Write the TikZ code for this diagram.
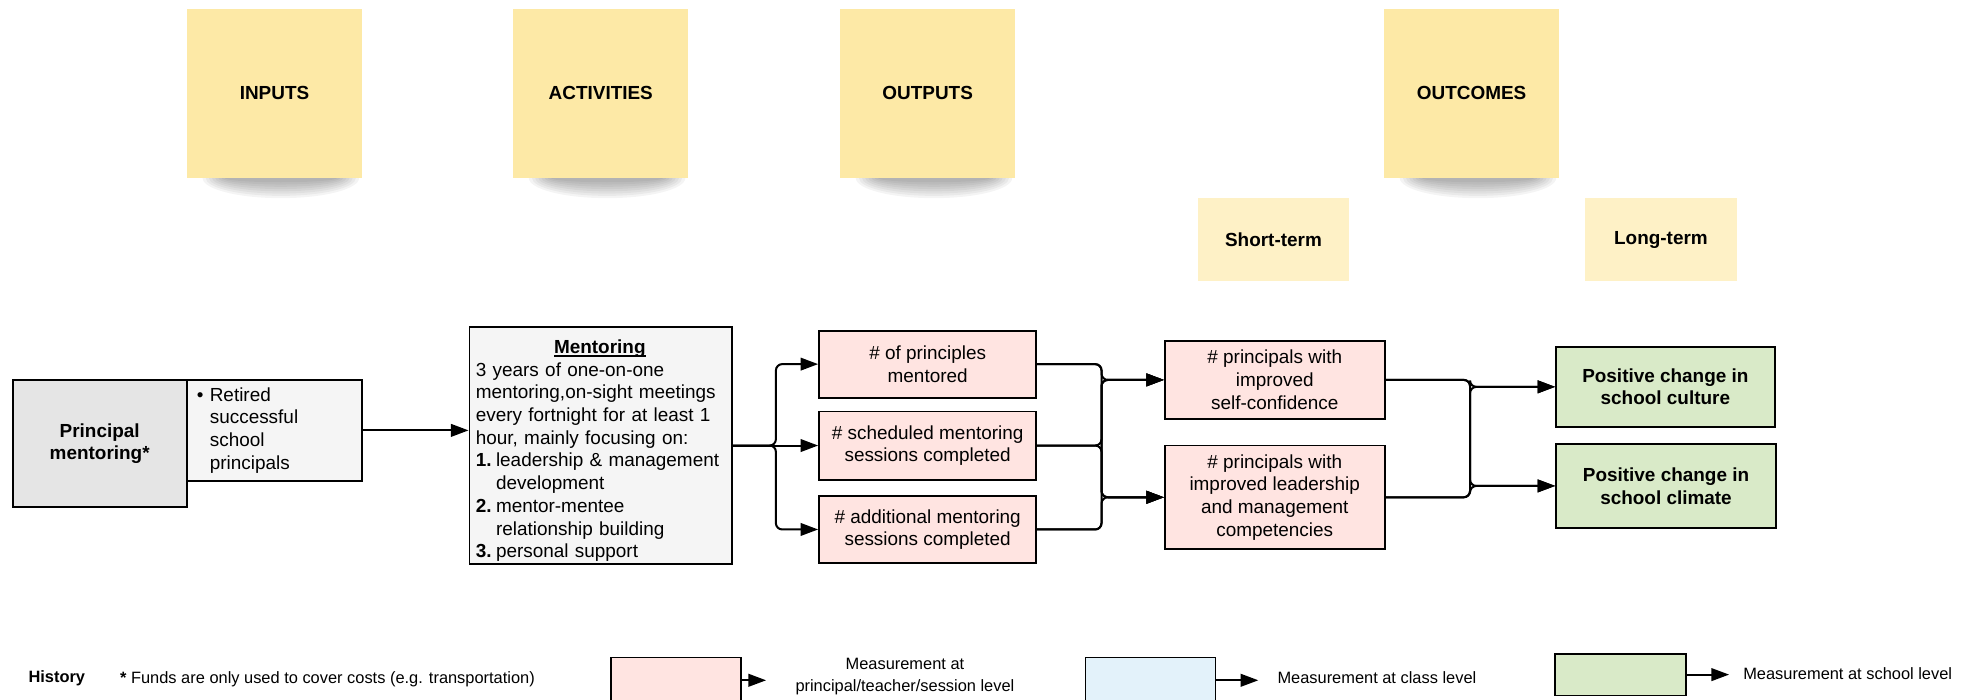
\documentclass[tikz,border=0pt]{standalone}
\usepackage{fontspec}
\setmainfont{Liberation Sans}
\usetikzlibrary{arrows.meta}

\definecolor{stickyA}{RGB}{253,233,166}
\definecolor{stickyB}{RGB}{254,241,198}
\definecolor{grayA}{RGB}{229,229,229}
\definecolor{grayB}{RGB}{245,245,245}
\definecolor{pinkbox}{RGB}{255,228,225}
\definecolor{bluebox}{RGB}{227,242,250}
\definecolor{greenbox}{RGB}{217,234,200}

% numbered item marker and its hanging indent
\newcommand{\itemno}[1]{\makebox[16pt][l]{\textbf{#1}}}
\newcommand{\itemgap}{\hspace*{16pt}}
% bold title with a rule under it
\newlength{\titlewd}
\newcommand{\ultitle}[1]{\settowidth{\titlewd}{\bfseries #1}%
  \rlap{\rule[-2.6pt]{\titlewd}{1pt}}\textbf{#1}}

\tikzset{
  sticky/.style={fill=stickyA, minimum width=139pt, minimum height=134pt, inner sep=0pt,
    font={\fontsize{15}{18}\selectfont\bfseries}},
  substicky/.style={fill=stickyB, minimum width=120pt, minimum height=66pt, inner sep=0pt,
    font={\fontsize{15}{18}\selectfont\bfseries}},
  box/.style={draw=black, line width=1.5pt, inner sep=0pt, align=center,
    font={\fontsize{15}{18}\selectfont}},
  boldbox/.style={box, font={\fontsize{15}{18}\selectfont\bfseries}},
  outbox/.style={box, fill=pinkbox, minimum width=172pt},
  legbox/.style={draw=black, line width=1.4pt, minimum width=103pt, minimum height=36pt, inner sep=0pt},
  legtext/.style={font={\fontsize{13}{17}\selectfont}, inner sep=0pt},
  conn/.style={line width=1.6pt, rounded corners=5pt, -{Triangle[length=14pt,width=10pt]}},
  shadowlayer/.style={fill=black, opacity=0.045}
}

\begin{document}
\begin{tikzpicture}[x=1pt,y=-1pt]
\useasboundingbox (0,0) rectangle (1568,554);
\clip (0,0) rectangle (1568,554);

% soft shadows under the column headers
\foreach \cx in {217.5,476,735,1166}{
  \foreach \i in {0,...,7}{
    \fill[shadowlayer] (\cx+5,141) ellipse ({62-2.5*\i} and {16-1.8*\i});
  }
}

% column headers
\node[sticky] (inputs)     at (217.5,74) {INPUTS};
\node[sticky] (activities) at (476,74)   {ACTIVITIES};
\node[sticky] (outputs)    at (735,74)   {OUTPUTS};
\node[sticky] (outcomes)   at (1166,74)  {OUTCOMES};
\node[substicky] (shortterm) at (1009,190) {Short-term};
\node[substicky] (longterm)  at (1316,190) {Long-term};

% inputs
\node[boldbox, fill=grayA, minimum width=138pt, minimum height=101pt] (pm) at (79,351.5)
  {Principal\\mentoring*};
\node[box, fill=grayB, minimum height=80pt, text width=123pt, inner xsep=8pt, align=left] (ret) at (217.5,341)
  {\textbullet\ Retired\\
   \phantom{\textbullet\ }successful\\
   \phantom{\textbullet\ }school\\
   \phantom{\textbullet\ }principals};

% activities
\node[box, fill=grayB, minimum height=188pt, text width=198pt, inner xsep=5pt, align=left] (men) at (476,353)
  {\rule{0pt}{19pt}\hspace*{62pt}\ultitle{Mentoring}\\
   3 years of one-on-one\\
   mentoring,on-sight meetings\\
   every fortnight for at least 1\\
   hour, mainly focusing on:\\
   \itemno{1.}leadership \& management\\
   \itemgap development\\
   \itemno{2.}mentor-mentee\\
   \itemgap relationship building\\
   \itemno{3.}personal support};

% outputs
\node[outbox, minimum height=53pt] (ox1) at (735,288.5) {\# of principles\\mentored};
\node[outbox, minimum height=54pt] (ox2) at (735,353)   {\# scheduled mentoring\\sessions completed};
\node[outbox, minimum height=53pt] (ox3) at (735,419.5) {\# additional mentoring\\sessions completed};

% short-term outcomes
\node[box, fill=pinkbox, minimum width=174pt, minimum height=62pt] (sx1) at (1010,301)
  {\# principals with\\improved\\self-confidence};
\node[box, fill=pinkbox, minimum width=174pt, minimum height=82pt] (sx2) at (1010,394)
  {\# principals with\\improved leadership\\and management\\competencies};

% long-term outcomes
\node[boldbox, fill=greenbox, minimum width=173pt, minimum height=63pt] (lx1) at (1319.5,306.5)
  {Positive change in\\school culture};
\node[boldbox, fill=greenbox, minimum width=174pt, minimum height=66pt] (lx2) at (1320,385)
  {Positive change in\\school climate};

% connectors
\draw[conn] (ret.east) -- (ret.east -| men.west);
\draw[conn] (men.east) -- ++(34,0) |- (ox1.west);
\draw[conn] (men.east) -- (ox2.west);
\draw[conn] (men.east) -- ++(34,0) |- (ox3.west);
\foreach \o in {ox1,ox2,ox3}{
  \foreach \s in {sx1,sx2}{
    \draw[conn] (\o.east) -- ++(51,0) |- (\s.west);
  }
}
\foreach \s in {sx1,sx2}{
  \foreach \l in {lx1,lx2}{
    \draw[conn] (\s.east) -- ++(67,0) |- (\l.west);
  }
}

% legend
\node[legtext, font={\fontsize{13}{17}\selectfont\bfseries}] (hist) at (45,537) {History};
\node[legtext, anchor=west] (funds) at (95,538)
  {\textbf{*} Funds are only used to cover costs (e.g. transportation)};

\node[legbox, fill=pinkbox] (lp) at (535.5,539) {};
\coordinate (lpend) at (607,539);
\draw[conn] (lp.east) -- (lpend);
\node[legtext, align=center] (lptext) at (717,536) {Measurement at\\principal/teacher/session level};

\node[legbox, fill=bluebox] (lb) at (911.5,539) {};
\coordinate (lbend) at (997,539);
\draw[conn] (lb.east) -- (lbend);
\node[legtext, anchor=west] (lbtext) at (1012,537) {Measurement at class level};

\node[legbox, fill=greenbox, minimum width=104pt, minimum height=33pt] (lg) at (1284,534.5) {};
\coordinate (lgend) at (1370,534.5);
\draw[conn] (lg.east) -- (lgend);
\node[legtext, anchor=west] (lgtext) at (1381,534) {Measurement at school level};

\end{tikzpicture}
\end{document}
